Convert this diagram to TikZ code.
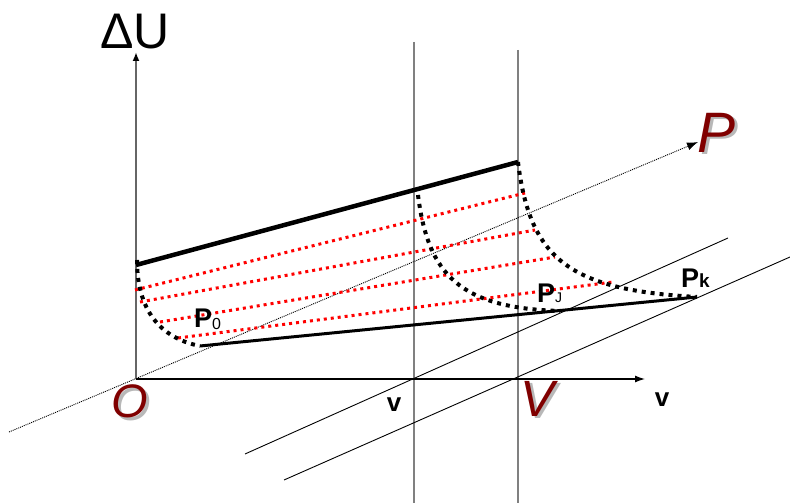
\documentclass[tikz,border=0pt]{standalone}
\usepackage{fontspec}
\setmainfont{Liberation Sans}
\usetikzlibrary{arrows.meta}
\definecolor{labelred}{RGB}{128, 0, 0}
\definecolor{shadowgray}{gray}{0.72}
\definecolor{guidegray}{gray}{0.50}
\definecolor{axisgray}{gray}{0.40}
\tikzset{
	bigdots/.style={line width=4pt, dash pattern=on 4pt off 5pt},
	reddots/.style={red, line width=3pt, dash pattern=on 3pt off 4pt},
	pointlabel/.style={anchor=base west, inner sep=0pt, font=\fontsize{27}{27}\selectfont\bfseries},
	axislabel/.style={inner sep=0pt, font=\fontsize{26}{26}\selectfont\bfseries},
}
% italic red letter with a grey drop shadow
\newcommand{\shadowtext}[4]{%
	\node[inner sep=0pt, text=labelred, font=\fontsize{#3}{#3}\selectfont\itshape] (#1) at (#2)
		{\rlap{\hspace{2.5pt}\raisebox{-2.5pt}{\textcolor{shadowgray}{#4}}}#4};
}

\begin{document}
\begin{tikzpicture}[x=1pt, y=-1pt]
		\useasboundingbox (0,0) rectangle (790,503);

		% axes and guides
		\coordinate (O) at (136,379);
		\coordinate (Utop) at (136,52);
		\coordinate (vend) at (645,379);
		\coordinate (Pstart) at (9,432);
		\coordinate (Pend) at (698,142);
		\coordinate (vtop) at (414,42);
		\coordinate (vbot) at (414,503);
		\coordinate (Vtop) at (518,50);
		\coordinate (Vbot) at (518,503);
		\coordinate (a1) at (245,454);
		\coordinate (a2) at (728,238);
		\coordinate (b1) at (284,480);
		\coordinate (b2) at (790,257);

		\draw[guidegray, line width=1.3pt] (vtop) -- (vbot);
		\draw[guidegray, line width=1.3pt] (Vtop) -- (Vbot);
		\draw[line width=0.9pt] (a1) -- (a2);
		\draw[line width=0.9pt] (b1) -- (b2);
		\draw[line width=0.9pt, dash pattern=on 1pt off 1pt, -{Latex[length=11pt, width=8pt]}] (Pstart) -- (Pend);
		\draw[axisgray, line width=1.8pt, -{Latex[length=9pt, width=7pt, color=black]}] (O) -- (Utop);
		\draw[line width=1.3pt, -{Latex[length=10pt, width=7pt]}] (O) -- (vend);

		% surface points
		\coordinate (A) at (136,265);
		\coordinate (B) at (518,162);
		\coordinate (P0) at (200,346);
		\coordinate (Pj) at (560,311);
		\coordinate (Pk) at (697,297);
		\coordinate (L0) at (137,260);
		\coordinate (M0) at (418,195);

		% red level lines
		\draw[reddots] (135,290) -- (525,193);
		\draw[reddots] (140,302) -- (535,230);
		\draw[reddots] (160,322) -- (555,257);
		\draw[reddots] (178,338) -- (613,282);

		% solid edges
		\draw[line width=4.5pt] (A) -- (B);
		\draw[line width=3pt] (P0) -- (Pk);

		% dotted curves
		\draw[bigdots] (L0) .. controls (137,310) and (160,338) .. (P0);
		\draw[bigdots] (M0) .. controls (428,275) and (460,308) .. (Pj);
		\draw[bigdots] (B) .. controls (530,260) and (570,290) .. (Pk);

		% labels
		\node[inner sep=0pt, font=\fontsize{50}{50}\selectfont] (dU) at (135,32) {ΔU};
		\node[axislabel] (vsmall) at (394,405) {v};
		\node[axislabel] (vaxis) at (662,400) {v};
		\node[pointlabel] (lblP0) at (194,327) {P\raisebox{-2pt}{\fontsize{16}{16}\selectfont\mdseries 0}};
		\node[pointlabel] (lblPj) at (537,302) {P\fontsize{14}{14}\selectfont\mdseries J};
		\node[pointlabel] (lblPk) at (681,287) {P\fontsize{19}{19}\selectfont k};
		\shadowtext{lblO}{130,403}{47}{O}
		\shadowtext{lblV}{538,400}{51}{V}
		\shadowtext{lblP}{717,134}{57}{P}
	\end{tikzpicture}
\end{document}
